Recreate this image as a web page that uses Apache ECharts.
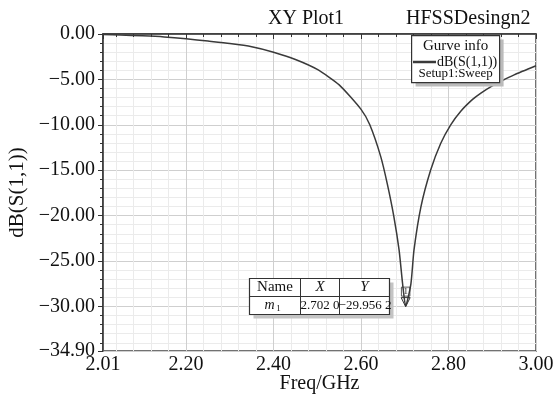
<!DOCTYPE html>
<html>
<head>
<meta charset="utf-8">
<script src="https://cdn.jsdelivr.net/npm/echarts@6/dist/echarts.min.js"></script>
<style>
  html, body { margin: 0; padding: 0; background: #fff; }
  #chart { width: 556px; height: 396px; }
</style>
</head>
<body>
<div id="chart"></div>
<script>
// 频率 (GHz) 与 S11 (dB)
const freq = [2.01, 2.05, 2.10, 2.15, 2.20, 2.25, 2.30, 2.35, 2.40, 2.45, 2.50, 2.55, 2.60, 2.62, 2.645,
  2.66, 2.675, 2.687, 2.695, 2.702, 2.714, 2.721, 2.737, 2.759, 2.782, 2.805, 2.828, 2.855, 2.874, 2.90, 2.92, 2.95, 3.00];
const s11 = [-0.05, -0.12, -0.2, -0.32, -0.52, -0.78, -1.05, -1.4, -2.0, -2.8, -3.9, -5.6, -8.3, -10.0, -13.5,
  -16.5, -20.1, -23.8, -27.5, -29.96, -27.5, -23.8, -19.0, -15.0, -12.05, -10.0, -8.5, -7.2, -6.5, -5.7, -5.2, -4.5, -3.5];

const xRange = [2.01, 3.00];
const yRange = [-34.9, 0];

// 标记 m1
const markerName = 'm1';
const markerX = 2.702;
const markerY = -29.96;
const markerXText = '2.702 0';
const markerYText = '\u221229.956 2';

const seriesName = 'dB(S(1,1))';
const sweepName = 'Setup1:Sweep';

const serif = '"Liberation Serif", "DejaVu Serif", serif';

function fmt(v) {
  return (v < 0 ? '\u2212' : '') + Math.abs(v).toFixed(2);
}

// graphic 子元素统一放在网格线之上
function onTop(el) {
  el.z = 100;
  return el;
}

const chart = echarts.init(document.getElementById('chart'));

const option = {
  backgroundColor: '#fff',
  animation: false,
  title: [
    { text: 'XY Plot1', left: 263, top: 4, textStyle: { fontFamily: serif, fontSize: 20, fontWeight: 'normal', color: '#111' } },
    { text: 'HFSSDesingn2', left: 401, top: 4, textStyle: { fontFamily: serif, fontSize: 20, fontWeight: 'normal', color: '#111' } }
  ],
  grid: {
    left: 103, right: 20, top: 34, bottom: 45,
    containLabel: false,
    outerBoundsMode: 'none',
    show: true, borderColor: '#444', borderWidth: 1.5
  },
  legend: {
    left: 413, top: 55, padding: 0, z: 110,
    icon: 'rect',
    itemWidth: 23, itemHeight: 2.5, itemGap: 0,
    data: [seriesName],
    textStyle: { fontFamily: serif, fontSize: 14, color: '#111', padding: [0, 0, 0, -4] }
  },
  xAxis: {
    type: 'value',
    min: xRange[0], max: xRange[1],
    splitNumber: 5,
    name: 'Freq/GHz', nameLocation: 'middle', nameGap: 23,
    nameMoveOverlap: false,
    nameTextStyle: { fontFamily: serif, fontSize: 20, color: '#111' },
    axisLine: { lineStyle: { color: '#333', width: 1.5 } },
    axisTick: { inside: false, length: 5, lineStyle: { color: '#333' } },
    minorTick: { show: true, splitNumber: 5, length: 3, lineStyle: { color: '#333' } },
    axisLabel: { fontFamily: serif, fontSize: 20, color: '#111', margin: 4, formatter: fmt },
    splitLine: { show: true, lineStyle: { color: '#cfcfcf', width: 1 } },
    minorSplitLine: { show: true, lineStyle: { color: '#ebebeb', width: 1 } }
  },
  yAxis: {
    type: 'value',
    min: yRange[0], max: yRange[1],
    splitNumber: 7,
    name: 'dB(S(1,1))', nameLocation: 'middle', nameGap: 70,
    nameTextStyle: { fontFamily: serif, fontSize: 21, color: '#111' },
    axisLine: { lineStyle: { color: '#333', width: 1.5 } },
    axisTick: { inside: false, length: 5, lineStyle: { color: '#333' } },
    minorTick: { show: true, splitNumber: 5, length: 3, lineStyle: { color: '#333' } },
    axisLabel: { fontFamily: serif, fontSize: 20, color: '#111', margin: 8, formatter: fmt },
    splitLine: { show: true, lineStyle: { color: '#cfcfcf', width: 1 } },
    minorSplitLine: { show: true, lineStyle: { color: '#ebebeb', width: 1 } }
  },
  series: [{
    name: seriesName,
    type: 'line',
    data: freq.map((f, i) => [f, s11[i]]),
    symbol: 'none',
    smooth: 0.2,
    lineStyle: { color: '#3a3a3a', width: 1.5 },
    itemStyle: { color: '#3a3a3a' },
    markPoint: {
      symbol: 'triangle',
      symbolSize: [9, 9],
      symbolRotate: 180,
      symbolOffset: [0, -4],
      itemStyle: { color: 'rgba(255,255,255,0)', borderColor: '#333', borderWidth: 1 },
      label: {
        show: true, position: 'top', distance: 1,
        formatter: '1', fontFamily: serif, fontSize: 9, color: '#222',
        borderColor: '#333', borderWidth: 0.8, padding: [0, 2]
      },
      data: [{ coord: [markerX, markerY] }]
    }
  }],
  graphic: [
    // 曲线信息框
    {
      type: 'group', left: 411, top: 35, z: 100,
      children: [
        { type: 'rect', shape: { x: 4, y: 4, width: 88, height: 47 }, style: { fill: '#bbb' } },
        { type: 'rect', shape: { x: 0, y: 0, width: 88, height: 47 }, style: { fill: '#fff', stroke: '#333', lineWidth: 1.2 } },
        { type: 'text', x: 44, y: 3, style: { text: 'Gurve info', font: '15px ' + serif, fill: '#111', align: 'center' } },
        { type: 'text', x: 44, y: 31, style: { text: sweepName, font: '13px ' + serif, fill: '#111', align: 'center' } }
      ].map(onTop)
    },
    // m1 标记表
    {
      type: 'group', left: 247, top: 276, z: 100,
      children: [
        { type: 'rect', shape: { x: 4, y: 4, width: 140, height: 36 }, style: { fill: '#c4c4c4' } },
        { type: 'rect', shape: { x: 0, y: 0, width: 140, height: 36 }, style: { fill: '#fff', stroke: '#333', lineWidth: 1.2 } },
        { type: 'line', shape: { x1: 0, y1: 18, x2: 140, y2: 18 }, style: { stroke: '#333', lineWidth: 1 } },
        { type: 'line', shape: { x1: 51, y1: 0, x2: 51, y2: 36 }, style: { stroke: '#333', lineWidth: 1 } },
        { type: 'line', shape: { x1: 90, y1: 0, x2: 90, y2: 36 }, style: { stroke: '#333', lineWidth: 1 } },
        { type: 'text', x: 25.5, y: 1, style: { text: 'Name', font: '15px ' + serif, fill: '#111', align: 'center' } },
        { type: 'text', x: 70.5, y: 1, style: { text: 'X', font: 'italic 15px ' + serif, fill: '#111', align: 'center' } },
        { type: 'text', x: 115, y: 1, style: { text: 'Y', font: 'italic 15px ' + serif, fill: '#111', align: 'center' } },
        { type: 'text', x: 20, y: 20, style: { text: 'm', font: 'italic 14px ' + serif, fill: '#111', align: 'center' } },
        { type: 'text', x: 29, y: 26, style: { text: markerName.slice(1), font: '9px ' + serif, fill: '#111', align: 'center' } },
        { type: 'text', x: 70.5, y: 21, style: { text: markerXText, font: '13px ' + serif, fill: '#111', align: 'center' } },
        { type: 'text', x: 115.5, y: 21, style: { text: markerYText, font: '13px ' + serif, fill: '#111', align: 'center' } }
      ].map(onTop)
    }
  ]
};

chart.setOption(option);
</script>
</body>
</html>
